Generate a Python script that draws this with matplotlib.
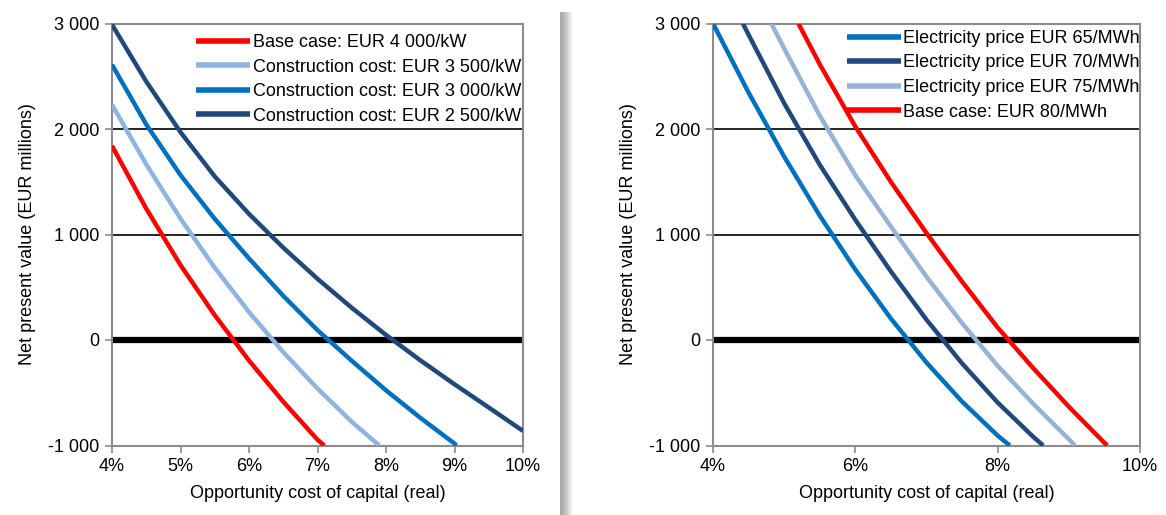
import matplotlib
matplotlib.use("Agg")
import matplotlib.pyplot as plt
from matplotlib.patches import Rectangle
from matplotlib.ticker import FuncFormatter

plt.rcParams['font.family'] = ['Liberation Sans', 'DejaVu Sans']

# ---------- Data: left panel (construction cost sensitivity) ----------
left_labels = ["Base case: EUR 4 000/kW",
               "Construction cost: EUR 3 500/kW",
               "Construction cost: EUR 3 000/kW",
               "Construction cost: EUR 2 500/kW"]
left_colors = ["#FF0000", "#8DB4E2", "#0070C0", "#1F497D"]

base_x = [4.0, 4.5, 5.0, 5.5, 6.0, 6.5, 7.0, 7.1]
base_y = [1840, 1245, 710, 235, -195, -585, -945, -1000]

c3500_x = [4.0, 4.5, 5.0, 5.5, 6.0, 6.5, 7.0, 7.5, 7.9]
c3500_y = [2230, 1665, 1150, 685, 265, -115, -460, -775, -1000]

c3000_x = [4.0, 4.5, 5.0, 5.5, 6.0, 6.5, 7.0, 7.5, 8.0, 8.5, 9.0, 9.03]
c3000_y = [2610, 2043, 1563, 1148, 773, 418, 93, -197, -477, -737, -982, -1000]

c2500_x = [4.0, 4.5, 5.0, 5.5, 6.0, 6.5, 7.0, 7.5, 8.0, 8.5, 9.0, 9.5, 10.0]
c2500_y = [2990, 2450, 1970, 1550, 1195, 875, 580, 305, 48, -192, -420, -640, -862]

left_series = [(base_x, base_y), (c3500_x, c3500_y), (c3000_x, c3000_y), (c2500_x, c2500_y)]

# ---------- Data: right panel (electricity price sensitivity) ----------
right_labels = ["Electricity price EUR 65/MWh",
                "Electricity price EUR 70/MWh",
                "Electricity price EUR 75/MWh",
                "Base case: EUR 80/MWh"]
right_colors = ["#0070C0", "#1F497D", "#95B3D7", "#FF0000"]

p65_x = [4.0, 4.5, 5.0, 5.5, 6.0, 6.5, 7.0, 7.5, 8.0, 8.17]
p65_y = [3000, 2345, 1738, 1179, 667, 203, -214, -584, -906, -1000]

p70_x = [4.42, 4.5, 5.0, 5.5, 6.0, 6.5, 7.0, 7.5, 8.0, 8.5, 8.64]
p70_y = [3000, 2893, 2244, 1661, 1139, 649, 192, -222, -593, -918, -1000]

p75_x = [4.82, 5.0, 5.5, 6.0, 6.5, 7.0, 7.5, 8.0, 8.5, 9.0, 9.085]
p75_y = [3000, 2763, 2126, 1561, 1075, 600, 160, -245, -605, -940, -1000]

p80_x = [5.2, 5.5, 6.0, 6.5, 7.0, 7.5, 8.0, 8.5, 9.0, 9.5, 9.54]
p80_y = [3000, 2613, 2023, 1498, 1013, 553, 118, -267, -632, -975, -1000]

right_series = [(p65_x, p65_y), (p70_x, p70_y), (p75_x, p75_y), (p80_x, p80_y)]

y_ticks = [-1000, 0, 1000, 2000, 3000]
left_xticks = [4, 5, 6, 7, 8, 9, 10]
right_xticks = [4, 6, 8, 10]

xlabel = "Opportunity cost of capital (real)"
ylabel = "Net present value (EUR millions)"

# ---------- Figure ----------
W, H = 1166, 515
fig = plt.figure(figsize=(W / 100, H / 100), dpi=100)

# shadow strip between panels
for i, a in enumerate([0.65, 0.6, 0.5, 0.38, 0.25, 0.12]):
    fig.patches.append(Rectangle(((560 + i * 2) / W, 0), 2 / W, 503 / H,
                                 transform=fig.transFigure, color="#7F7F7F",
                                 alpha=a, lw=0, zorder=0))

def fmt_thousands(v, pos):
    s = f"{abs(int(round(v))):,}".replace(",", " ")
    return ("-" if v < 0 else "") + s

def style_axes(ax, xticks, series, colors, labels, legend_anchor):
    for (xs, ys), c, lab in zip(series, colors, labels):
        ax.plot(xs, ys, color=c, lw=3.2, label=lab, solid_capstyle="butt",
                solid_joinstyle="round", zorder=3)
    ax.set_xlim(4, 10)
    ax.set_ylim(-1000, 3000)
    ax.set_xticks(xticks)
    ax.set_xticklabels([f"{t}%" for t in xticks])
    ax.set_yticks(y_ticks)
    ax.yaxis.set_major_formatter(FuncFormatter(fmt_thousands))
    for v in [1000, 2000]:
        ax.axhline(v, color="black", lw=1.2, zorder=1)
    ax.axhline(0, color="black", lw=4.5, zorder=2)
    for sp in ax.spines.values():
        sp.set_color("#8C8C8C")
        sp.set_linewidth(1.5)
    ax.tick_params(axis="both", direction="out", length=5, width=1.2, color="#8C8C8C",
                   labelsize=13, pad=4)
    ax.set_xlabel(xlabel, fontsize=13, labelpad=7)
    ax.set_ylabel(ylabel, fontsize=13, labelpad=9)
    leg = ax.legend(loc="upper right", bbox_to_anchor=legend_anchor, frameon=False,
                    fontsize=13, handlelength=3.0, handletextpad=0.15,
                    labelspacing=0.42, borderaxespad=0.0, borderpad=0.0)
    for line in leg.get_lines():
        line.set_linewidth(4)

ax1 = fig.add_axes([112 / W, 1 - 445.5 / H, (523 - 112) / W, (445.5 - 23.5) / H])
style_axes(ax1, left_xticks, left_series, left_colors, left_labels, (0.995, 0.975))

ax2 = fig.add_axes([713 / W, 1 - 445.5 / H, (1140 - 713) / W, (445.5 - 23.5) / H])
style_axes(ax2, right_xticks, right_series, right_colors, right_labels, (1.0, 0.985))

fig.savefig("out.png", dpi=100)
